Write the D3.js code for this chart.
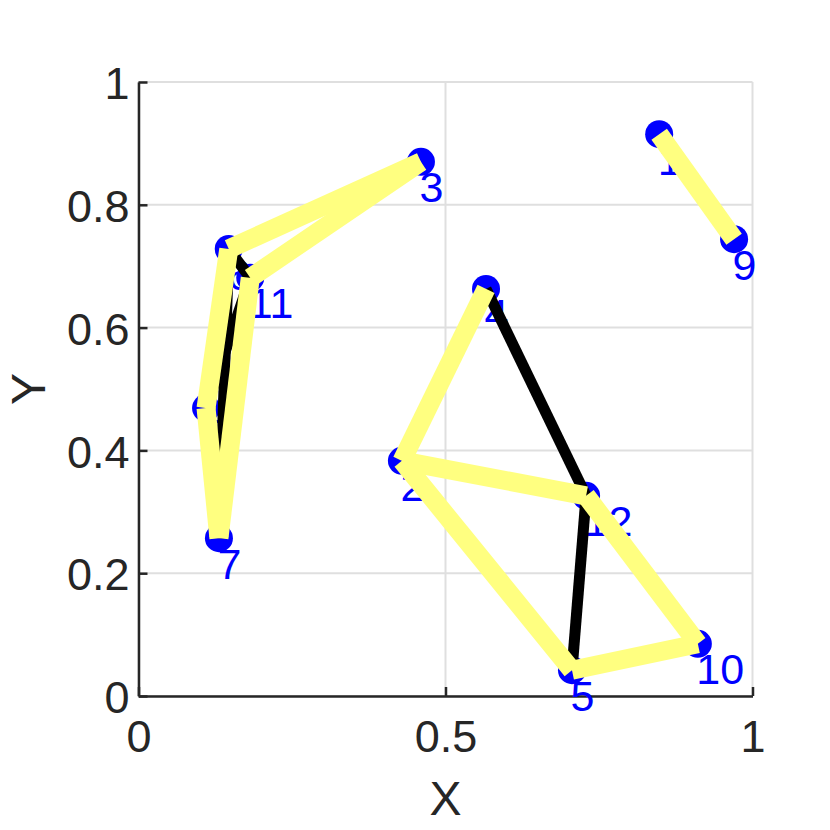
<!DOCTYPE html>
<html>
<head>
<meta charset="utf-8">
<script src="https://cdn.jsdelivr.net/npm/d3@7"></script>
<style>
  html, body { margin: 0; padding: 0; background: #fff; }
  svg { display: block; }
  text { font-family: "Liberation Sans", Arial, Helvetica, sans-serif; }
</style>
</head>
<body>
<script>
// ---- data ----
const nodeIds = [1, 2, 3, 4, 5, 6, 7, 8, 9, 10, 11, 12];
const nodeX   = [0.848, 0.429, 0.460, 0.566, 0.706, 0.147, 0.131, 0.110, 0.970, 0.911, 0.182, 0.729];
const nodeY   = [0.915, 0.383, 0.870, 0.663, 0.042, 0.728, 0.257, 0.469, 0.744, 0.085, 0.681, 0.326];

// graph edges (black)
const edgeSource = [4, 12, 6, 11, 6];
const edgeTarget = [12, 5, 7, 8, 11];

// highlighted edges (yellow)
const pathSource = [1, 3, 3, 6, 8, 7, 4, 2, 12, 10, 5];
const pathTarget = [9, 6, 11, 8, 7, 11, 2, 12, 10, 5, 2];

const xTicks = [0, 0.5, 1];
const xTickLabels = ["0", "0.5", "1"];
const yTicks = [0, 0.2, 0.4, 0.6, 0.8, 1];
const yTickLabels = ["0", "0.2", "0.4", "0.6", "0.8", "1"];

// ---- layout ----
const W = 830, H = 830;
const x = d3.scaleLinear().domain([0, 1]).range([138.5, 752.5]);
const y = d3.scaleLinear().domain([0, 1]).range([696, 82]);

const svg = d3.select("body").append("svg").attr("width", W).attr("height", H);

// grid
const grid = svg.append("g");
grid.selectAll("line.gx").data(xTicks).enter().append("line")
  .attr("x1", d => x(d)).attr("x2", d => x(d))
  .attr("y1", y(0)).attr("y2", y(1))
  .attr("stroke", "#dfdfdf").attr("stroke-width", 2);
grid.selectAll("line.gy").data(yTicks).enter().append("line")
  .attr("x1", x(0)).attr("x2", x(1))
  .attr("y1", d => y(d)).attr("y2", d => y(d))
  .attr("stroke", "#dfdfdf").attr("stroke-width", 2);

// axes
const axColor = "#262626";
const xAxis = svg.append("g").attr("transform", `translate(0,${y(0)})`)
  .call(d3.axisBottom(x).tickValues(xTicks).tickFormat((d, i) => xTickLabels[i])
        .tickSizeInner(-9).tickSizeOuter(0).tickPadding(24));
const yAxis = svg.append("g").attr("transform", `translate(${x(0)},0)`)
  .call(d3.axisLeft(y).tickValues(yTicks).tickFormat((d, i) => yTickLabels[i])
        .tickSizeInner(-9).tickSizeOuter(0).tickPadding(9));
[xAxis, yAxis].forEach(g => {
  g.select(".domain").attr("stroke", axColor).attr("stroke-width", 2.5);
  g.selectAll(".tick line").attr("stroke", axColor).attr("stroke-width", 2.5);
  g.selectAll(".tick text").attr("fill", axColor).attr("font-size", 45)
    .attr("font-family", '"Liberation Sans", Arial, Helvetica, sans-serif');
});
xAxis.selectAll(".tick text").attr("dy", "0.71em");
yAxis.selectAll(".tick text").attr("dy", "0.37em");

// axis labels
svg.append("text").attr("x", (x(0) + x(1)) / 2).attr("y", 815)
  .attr("text-anchor", "middle").attr("font-size", 48).attr("fill", axColor).text("X");
svg.append("text").attr("transform", `translate(45,${(y(0) + y(1)) / 2}) rotate(-90)`)
  .attr("text-anchor", "middle").attr("font-size", 48).attr("fill", axColor).text("Y");

// nodes
const nodes = nodeIds.map((id, i) => ({ id, x: nodeX[i], y: nodeY[i] }));
const byId = new Map(nodes.map(n => [n.id, n]));

svg.append("g").selectAll("circle").data(nodes).enter().append("circle")
  .attr("cx", d => x(d.x)).attr("cy", d => y(d.y)).attr("r", 14)
  .attr("fill", "#0000ff");

svg.append("g").selectAll("text").data(nodes).enter().append("text")
  .attr("x", d => x(d.x) - 1.5).attr("y", d => y(d.y) + 40.5)
  .attr("font-size", 43).attr("fill", "#0000ff").text(d => d.id);

// black edges
const edges = edgeSource.map((s, i) => [byId.get(s), byId.get(edgeTarget[i])]);
svg.append("g").selectAll("line").data(edges).enter().append("line")
  .attr("x1", d => x(d[0].x)).attr("y1", d => y(d[0].y))
  .attr("x2", d => x(d[1].x)).attr("y2", d => y(d[1].y))
  .attr("stroke", "#000").attr("stroke-width", 11).attr("stroke-linecap", "butt");

// highlighted edges
const pEdges = pathSource.map((s, i) => [byId.get(s), byId.get(pathTarget[i])]);
svg.append("g").selectAll("line").data(pEdges).enter().append("line")
  .attr("x1", d => x(d[0].x)).attr("y1", d => y(d[0].y))
  .attr("x2", d => x(d[1].x)).attr("y2", d => y(d[1].y))
  .attr("stroke", "#ffff80").attr("stroke-width", 19).attr("stroke-linecap", "butt");
</script>
</body>
</html>
